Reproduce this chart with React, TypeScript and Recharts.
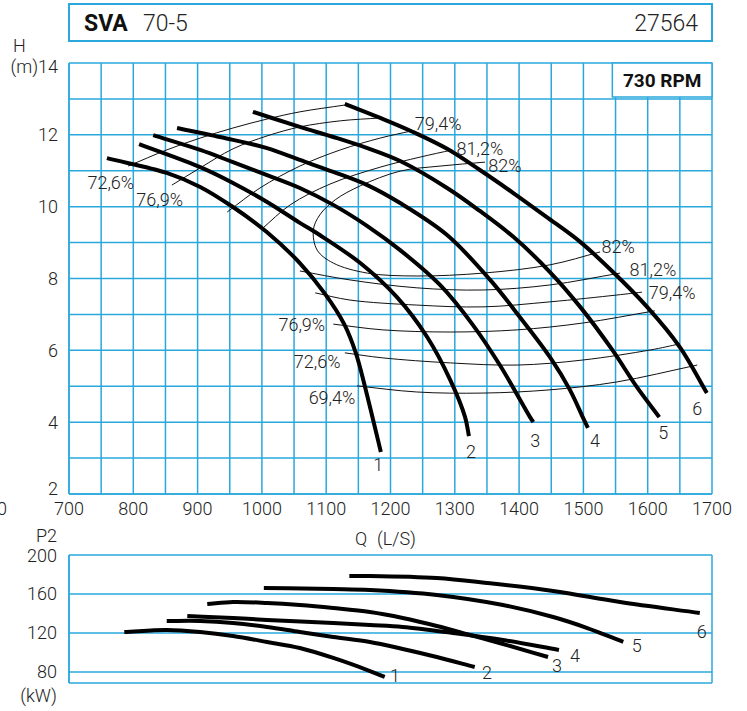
import React from 'react';
import { LineChart, Line, XAxis, YAxis, CartesianGrid, ReferenceArea, ReferenceDot } from 'recharts';

const GRID = '#2aa8dc';
const TXT = '#222222';
const FONT = 'Roboto, "Liberation Sans", Arial, sans-serif';

// Axis ticks / labels
const qGrid = [700, 750, 800, 850, 900, 950, 1000, 1050, 1100, 1150, 1200, 1250, 1300, 1350, 1400, 1450, 1500, 1550, 1600, 1650, 1700];
const qLabels = [700, 800, 900, 1000, 1100, 1200, 1300, 1400, 1500, 1600, 1700];
const hGrid = [2, 3, 4, 5, 6, 7, 8, 9, 10, 11, 12, 13, 14];
const hLabels = [2, 4, 6, 8, 10, 12, 14];
const pGrid = [80, 120, 160, 200];

// Head curves Q (L/s) -> H (m), impellers 1..6
const head1 = [
  { q: 759, h: 11.35 }, { q: 852, h: 10.94 }, { q: 904, h: 10.55 }, { q: 955, h: 9.99 }, { q: 1008, h: 9.29 },
  { q: 1059, h: 8.43 }, { q: 1097, h: 7.60 }, { q: 1128, h: 6.73 }, { q: 1146, h: 5.93 }, { q: 1160, h: 5.01 },
  { q: 1173, h: 4.06 }, { q: 1185, h: 3.17 },
];
const head2 = [
  { q: 809, h: 11.74 }, { q: 904, h: 11.10 }, { q: 955, h: 10.66 }, { q: 1008, h: 10.13 }, { q: 1059, h: 9.55 },
  { q: 1090, h: 9.21 }, { q: 1153, h: 8.43 }, { q: 1210, h: 7.48 }, { q: 1257, h: 6.37 }, { q: 1293, h: 5.17 },
  { q: 1316, h: 4.14 }, { q: 1322, h: 3.61 },
];
const head3 = [
  { q: 831, h: 11.99 }, { q: 904, h: 11.58 }, { q: 955, h: 11.24 }, { q: 1008, h: 10.88 }, { q: 1059, h: 10.52 },
  { q: 1111, h: 10.05 }, { q: 1164, h: 9.46 }, { q: 1215, h: 8.79 }, { q: 1277, h: 7.82 }, { q: 1328, h: 6.71 },
  { q: 1370, h: 5.59 }, { q: 1417, h: 4.14 }, { q: 1422, h: 4.0 },
];
const head4 = [
  { q: 868, h: 12.19 }, { q: 955, h: 11.86 }, { q: 1008, h: 11.63 }, { q: 1059, h: 11.30 }, { q: 1111, h: 10.97 },
  { q: 1164, h: 10.60 }, { q: 1215, h: 10.10 }, { q: 1288, h: 9.21 }, { q: 1355, h: 7.96 }, { q: 1401, h: 6.93 },
  { q: 1448, h: 5.81 }, { q: 1479, h: 4.90 }, { q: 1499, h: 4.14 }, { q: 1507, h: 3.84 },
];
const head5 = [
  { q: 986, h: 12.64 }, { q: 1059, h: 12.22 }, { q: 1111, h: 11.94 }, { q: 1164, h: 11.63 }, { q: 1215, h: 11.27 },
  { q: 1288, h: 10.52 }, { q: 1339, h: 9.88 }, { q: 1391, h: 9.16 }, { q: 1448, h: 8.18 }, { q: 1495, h: 7.21 },
  { q: 1545, h: 6.01 }, { q: 1583, h: 4.98 }, { q: 1618, h: 4.14 },
];
const head6 = [
  { q: 1129, h: 12.86 }, { q: 1184, h: 12.47 }, { q: 1235, h: 12.08 }, { q: 1288, h: 11.61 }, { q: 1339, h: 11.02 },
  { q: 1391, h: 10.38 }, { q: 1443, h: 9.71 }, { q: 1495, h: 9.02 }, { q: 1546, h: 8.18 }, { q: 1599, h: 7.21 },
  { q: 1650, h: 6.09 }, { q: 1692, h: 4.81 },
];

// Iso-efficiency lines
const eff726Upper = [
  { q: 792, h: 11.13 }, { q: 852, h: 11.58 }, { q: 904, h: 11.91 }, { q: 955, h: 12.19 }, { q: 1008, h: 12.44 }, { q: 1059, h: 12.64 }, { q: 1129, h: 12.83 },
];
const eff769Upper = [
  { q: 860, h: 10.60 }, { q: 904, h: 11.08 }, { q: 955, h: 11.61 }, { q: 1008, h: 11.97 }, { q: 1059, h: 12.22 }, { q: 1122, h: 12.39 }, { q: 1184, h: 12.47 },
];
const eff794Upper = [
  { q: 946, h: 9.85 }, { q: 997, h: 10.52 }, { q: 1059, h: 11.13 }, { q: 1122, h: 11.58 }, { q: 1184, h: 11.91 }, { q: 1233, h: 12.11 },
];
const eff812Upper = [
  { q: 1000, h: 9.38 }, { q: 1044, h: 10.05 }, { q: 1106, h: 10.63 }, { q: 1184, h: 11.10 }, { q: 1246, h: 11.38 }, { q: 1296, h: 11.58 },
];
const eff82Loop = [
  { q: 1347, h: 11.24 }, { q: 1277, h: 11.13 }, { q: 1215, h: 10.99 }, { q: 1153, h: 10.58 }, { q: 1114, h: 10.19 },
  { q: 1090, h: 9.77 }, { q: 1080, h: 9.35 }, { q: 1086, h: 8.79 }, { q: 1111, h: 8.43 }, { q: 1164, h: 8.15 },
  { q: 1241, h: 8.07 }, { q: 1344, h: 8.15 }, { q: 1448, h: 8.38 }, { q: 1526, h: 8.74 },
];
const eff812Lower = [
  { q: 1059, h: 8.21 }, { q: 1137, h: 7.96 }, { q: 1241, h: 7.74 }, { q: 1344, h: 7.68 }, { q: 1448, h: 7.82 }, { q: 1557, h: 8.15 },
];
const eff794Lower = [
  { q: 1083, h: 7.60 }, { q: 1137, h: 7.40 }, { q: 1241, h: 7.26 }, { q: 1344, h: 7.21 }, { q: 1448, h: 7.35 }, { q: 1552, h: 7.54 }, { q: 1591, h: 7.62 },
];
const eff769Lower = [
  { q: 1111, h: 6.73 }, { q: 1188, h: 6.57 }, { q: 1293, h: 6.51 }, { q: 1397, h: 6.57 }, { q: 1499, h: 6.76 }, { q: 1611, h: 7.10 },
];
const eff726Lower = [
  { q: 1129, h: 5.93 }, { q: 1188, h: 5.79 }, { q: 1293, h: 5.65 }, { q: 1397, h: 5.59 }, { q: 1499, h: 5.73 }, { q: 1604, h: 6.01 }, { q: 1650, h: 6.18 },
];
const eff694Lower = [
  { q: 1148, h: 5.01 }, { q: 1241, h: 4.84 }, { q: 1344, h: 4.81 }, { q: 1448, h: 4.90 }, { q: 1552, h: 5.12 }, { q: 1677, h: 5.59 },
];

// Power curves Q (L/s) -> P2 (kW)
const power1 = [
  { q: 786, p: 121.0 }, { q: 852, p: 123.1 }, { q: 904, p: 121.0 }, { q: 955, p: 116.9 }, { q: 1008, p: 110.8 },
  { q: 1059, p: 104.6 }, { q: 1111, p: 94.4 }, { q: 1168, p: 81.0 }, { q: 1191, p: 74.9 },
];
const power2 = [
  { q: 852, p: 132.3 }, { q: 904, p: 132.3 }, { q: 955, p: 130.3 }, { q: 1008, p: 126.2 }, { q: 1059, p: 121.0 },
  { q: 1111, p: 115.9 }, { q: 1168, p: 110.8 }, { q: 1219, p: 103.6 }, { q: 1272, p: 95.4 }, { q: 1331, p: 85.1 },
];
const power3 = [
  { q: 915, p: 149.7 }, { q: 955, p: 151.8 }, { q: 1008, p: 150.8 }, { q: 1059, p: 148.7 }, { q: 1111, p: 145.6 },
  { q: 1168, p: 141.5 }, { q: 1219, p: 135.4 }, { q: 1272, p: 127.2 }, { q: 1324, p: 117.9 }, { q: 1375, p: 108.7 }, { q: 1445, p: 95.4 },
];
const power4 = [
  { q: 884, p: 137.4 }, { q: 955, p: 135.4 }, { q: 1008, p: 133.3 }, { q: 1111, p: 130.3 }, { q: 1168, p: 128.2 },
  { q: 1219, p: 126.2 }, { q: 1297, p: 120.0 }, { q: 1375, p: 112.8 }, { q: 1462, p: 102.6 },
];
const power5 = [
  { q: 1003, p: 166.2 }, { q: 1111, p: 165.1 }, { q: 1168, p: 164.1 }, { q: 1272, p: 159.0 }, { q: 1375, p: 148.7 },
  { q: 1453, p: 136.4 }, { q: 1506, p: 125.1 }, { q: 1562, p: 110.8 },
];
const power6 = [
  { q: 1136, p: 178.5 }, { q: 1168, p: 178.5 }, { q: 1272, p: 176.4 }, { q: 1350, p: 171.3 }, { q: 1453, p: 163.1 },
  { q: 1557, p: 151.8 }, { q: 1681, p: 140.5 },
];

const headCurves = [head1, head2, head3, head4, head5, head6];
const effUpper = [eff726Upper, eff769Upper, eff794Upper, eff812Upper];
const effLower = [eff812Lower, eff794Lower, eff769Lower, eff726Lower, eff694Lower];
const powerCurves = [power1, power2, power3, power4, power5, power6];
const curveNames = ['1', '2', '3', '4', '5', '6'];
const effNames = ['72,6%', '76,9%', '79,4%', '81,2%', '82%', '69,4%'];

// Centripetal Catmull-Rom curve factory (d3-style curve interface)
const catmullRom = (context: any) => {
  let pts: [number, number][] = [];
  const flush = () => {
    const n = pts.length;
    if (!n) return;
    context.moveTo(pts[0][0], pts[0][1]);
    if (n === 1) return;
    for (let i = 0; i < n - 1; i++) {
      const p0 = pts[Math.max(0, i - 1)];
      const p1 = pts[i];
      const p2 = pts[i + 1];
      const p3 = pts[Math.min(n - 1, i + 2)];
      const d1 = Math.sqrt(Math.hypot(p1[0] - p0[0], p1[1] - p0[1]));
      const d2 = Math.sqrt(Math.hypot(p2[0] - p1[0], p2[1] - p1[1]));
      const d3 = Math.sqrt(Math.hypot(p3[0] - p2[0], p3[1] - p2[1]));
      let b1x: number, b1y: number, b2x: number, b2y: number;
      if (d1 > 1e-6) {
        const a = 2 * d1 * d1 + 3 * d1 * d2 + d2 * d2;
        const m = 3 * d1 * (d1 + d2);
        b1x = (d1 * d1 * p2[0] - d2 * d2 * p0[0] + a * p1[0]) / m;
        b1y = (d1 * d1 * p2[1] - d2 * d2 * p0[1] + a * p1[1]) / m;
      } else {
        b1x = p1[0] + (p2[0] - p1[0]) / 3;
        b1y = p1[1] + (p2[1] - p1[1]) / 3;
      }
      if (d3 > 1e-6) {
        const b = 2 * d3 * d3 + 3 * d3 * d2 + d2 * d2;
        const m = 3 * d3 * (d3 + d2);
        b2x = (d3 * d3 * p1[0] - d2 * d2 * p3[0] + b * p2[0]) / m;
        b2y = (d3 * d3 * p1[1] - d2 * d2 * p3[1] + b * p2[1]) / m;
      } else {
        b2x = p2[0] - (p2[0] - p1[0]) / 3;
        b2y = p2[1] - (p2[1] - p1[1]) / 3;
      }
      context.bezierCurveTo(b1x, b1y, b2x, b2y, p2[0], p2[1]);
    }
  };
  return {
    areaStart() {},
    areaEnd() {},
    lineStart() { pts = []; },
    lineEnd() { flush(); pts = []; },
    point(x: number, y: number) { pts.push([+x, +y]); },
  };
};

const textStyle = { fill: TXT, fontSize: 18, fontFamily: FONT, fontWeight: 300 } as const;

const XTick = (props: any) => {
  const { x, y, payload } = props;
  if (!qLabels.includes(payload.value)) return <g />;
  return (
    <text x={x} y={y + 21} textAnchor="middle" {...textStyle}>{payload.value}</text>
  );
};

const HTick = (props: any) => {
  const { x, y, payload } = props;
  const v = payload.value;
  if (!hLabels.includes(v)) return <g />;
  const label = v === 14 ? '(m)14' : String(v);
  const dy = v === 14 ? 3 : v === 2 ? -6 : 0;
  return (
    <text x={x - 11} y={y + dy + 6.5} textAnchor="end" {...textStyle}>{label}</text>
  );
};

const PTick = (props: any) => {
  const { x, y, payload } = props;
  return (
    <text x={x - 12} y={y + 6.5} textAnchor="end" {...textStyle}>{payload.value}</text>
  );
};

const lbl = (value: string) => ({ value, position: 'center' as const, ...textStyle });

export default function App() {
  // label anchor points in data units (text placement only)
  const headLabelAt = [
    [1181, 2.81], [1325, 3.17], [1425, 3.5], [1518, 3.5], [1624, 3.7], [1677, 4.39],
  ];
  const powerLabelAt = [
    [1207, 75.9], [1350, 79.0], [1459, 86.2], [1487, 96.4], [1583, 106.7], [1684, 121.0],
  ];
  const effLabelAt: [string, number, number][] = [
    [effNames[0], 765, 10.66], [effNames[1], 841, 10.19],
    [effNames[2], 1274, 12.30], [effNames[3], 1339, 11.63], [effNames[4], 1378, 11.13],
    [effNames[4], 1554, 8.90], [effNames[3], 1608, 8.26], [effNames[2], 1638, 7.60],
    [effNames[1], 1062, 6.73], [effNames[0], 1086, 5.68], [effNames[5], 1109, 4.67],
  ];

  return (
    <div style={{ position: 'absolute', left: 0, top: 0, width: 747, height: 711, background: '#fff', overflow: 'hidden' }}>
      <div style={{ position: 'absolute', left: 0, top: 0 }}>
        <LineChart width={747} height={530} margin={{ top: 63, right: 35, bottom: 6, left: 9 }}>
          <CartesianGrid stroke={GRID} strokeWidth={1.5} />
          <XAxis
            type="number" dataKey="q" domain={[700, 1700]} ticks={qGrid} allowDataOverflow
            height={30} tickSize={0} tickMargin={0} tickLine={false}
            axisLine={{ stroke: GRID, strokeWidth: 1.5 }} tick={<XTick />} interval={0}
          />
          <YAxis
            type="number" domain={[2, 14]} ticks={hGrid} allowDataOverflow width={60}
            tickSize={0} tickMargin={0} tickLine={false}
            axisLine={{ stroke: GRID, strokeWidth: 1.5 }} tick={<HTick />} interval={0}
          />
          {effUpper.map((d, i) => (
            <Line key={'eu' + i} data={d} dataKey="h" type={catmullRom as any} stroke="#111" strokeWidth={1} dot={false} isAnimationActive={false} />
          ))}
          <Line data={eff82Loop} dataKey="h" type={catmullRom as any} stroke="#111" strokeWidth={1} dot={false} isAnimationActive={false} />
          {effLower.map((d, i) => (
            <Line key={'el' + i} data={d} dataKey="h" type={catmullRom as any} stroke="#111" strokeWidth={1} dot={false} isAnimationActive={false} />
          ))}
          {headCurves.map((d, i) => (
            <Line key={'h' + i} data={d} dataKey="h" type={catmullRom as any} stroke="#000" strokeWidth={4} dot={false} isAnimationActive={false} />
          ))}
          <ReferenceArea
            x1={1545} x2={1700} y1={13.05} y2={14} fill="#fff" fillOpacity={1} stroke={GRID} strokeWidth={1.5}
            label={{ value: '730 RPM', position: 'center', fill: '#111', fontSize: 19, fontWeight: 700, fontFamily: FONT }}
          />
          {headLabelAt.map(([q, h], i) => (
            <ReferenceDot key={'hl' + i} x={q} y={h} r={0} fill="none" stroke="none" label={lbl(curveNames[i])} />
          ))}
          {effLabelAt.map(([t, q, h], i) => (
            <ReferenceDot key={'ef' + i} x={q} y={h} r={0} fill="none" stroke="none" label={lbl(t)} />
          ))}
        </LineChart>
      </div>
      <div style={{ position: 'absolute', left: 0, top: 530 }}>
        <LineChart width={747} height={181} margin={{ top: 25, right: 35, bottom: 28, left: 9 }}>
          <CartesianGrid stroke={GRID} strokeWidth={1.5} />
          <XAxis
            type="number" dataKey="q" domain={[700, 1700]} ticks={qGrid} allowDataOverflow
            height={0} tick={false} tickLine={false} axisLine={{ stroke: GRID, strokeWidth: 1.5 }} interval={0}
          />
          <YAxis
            type="number" domain={[68.7, 200]} ticks={pGrid} allowDataOverflow width={60}
            tickSize={0} tickMargin={0} tickLine={false}
            axisLine={{ stroke: GRID, strokeWidth: 1.5 }} tick={<PTick />} interval={0}
          />
          {powerCurves.map((d, i) => (
            <Line key={'p' + i} data={d} dataKey="p" type={catmullRom as any} stroke="#000" strokeWidth={4} dot={false} isAnimationActive={false} />
          ))}
          {powerLabelAt.map(([q, p], i) => (
            <ReferenceDot key={'pl' + i} x={q} y={p} r={0} fill="none" stroke="none" label={lbl(curveNames[i])} />
          ))}
        </LineChart>
      </div>
      <svg width={747} height={711} style={{ position: 'absolute', left: 0, top: 0, pointerEvents: 'none' }}>
        <rect x={69} y={4} width={643} height={37} fill="none" stroke={GRID} strokeWidth={2} />
        <text x={84} y={31} fill="#111" fontSize={23} fontWeight={700} fontFamily={FONT}>SVA</text>
        <text x={143} y={31} fill={TXT} fontSize={23} fontWeight={300} fontFamily={FONT}>70-5</text>
        <text x={698} y={31} textAnchor="end" fill={TXT} fontSize={23} fontWeight={300} fontFamily={FONT}>27564</text>
        <text x={13} y={52} {...textStyle}>H</text>
        <text x={7} y={515} textAnchor="end" {...textStyle}>0</text>
        <text x={355} y={545} {...textStyle}>Q</text>
        <text x={377} y={545} {...textStyle}>(L/S)</text>
        <text x={57} y={542} textAnchor="end" {...textStyle}>P2</text>
        <text x={57} y={702} textAnchor="end" {...textStyle}>(kW)</text>
      </svg>
    </div>
  );
}
